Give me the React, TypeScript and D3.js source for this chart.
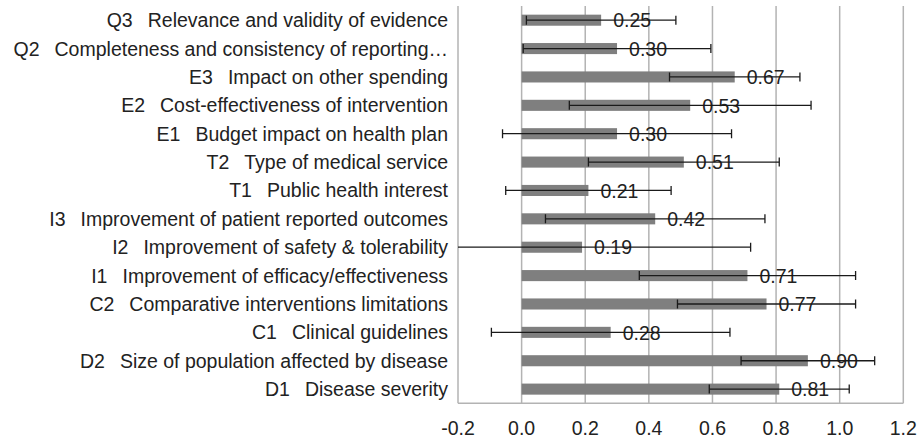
import React from "react";
import * as d3 from "d3";

const codes = ["Q3", "Q2", "E3", "E2", "E1", "T2", "T1", "I3", "I2", "I1", "C2", "C1", "D2", "D1"];
const names = [
  "Relevance and validity of evidence",
  "Completeness and consistency of reporting…",
  "Impact on other spending",
  "Cost-effectiveness of intervention",
  "Budget impact on health plan",
  "Type of medical service",
  "Public health interest",
  "Improvement of patient reported outcomes",
  "Improvement of safety & tolerability",
  "Improvement of efficacy/effectiveness",
  "Comparative interventions limitations",
  "Clinical guidelines",
  "Size of population affected by disease",
  "Disease severity",
];
const values = [0.25, 0.3, 0.67, 0.53, 0.3, 0.51, 0.21, 0.42, 0.19, 0.71, 0.77, 0.28, 0.9, 0.81];
const errors = [0.235, 0.295, 0.205, 0.38, 0.36, 0.3, 0.26, 0.345, 0.53, 0.34, 0.28, 0.375, 0.21, 0.22];
const ticks = [-0.2, 0, 0.2, 0.4, 0.6, 0.8, 1.0, 1.2];

const W = 921;
const H = 441;
const left = 458;
const right = 903.3;
const top = 6;
const bottom = 403.3;
const FONT = "'Liberation Sans', Arial, Helvetica, sans-serif";

export default function App() {
  const x = d3.scaleLinear().domain([-0.2, 1.2]).range([left, right]);
  const y = d3.scaleBand<number>().domain(d3.range(codes.length)).range([top, bottom]).paddingInner(0.61).paddingOuter(0.305);
  const bh = y.bandwidth();
  const grid = "#b3b3b3";
  const fmtTick = (t: number) => d3.format(".1f")(t).replace("\u2212", "-");
  return (
    <div style={{ position: "absolute", left: 0, top: 0 }}>
      <svg width={W} height={H} style={{ display: "block" }} fontFamily={FONT}>
        <defs>
          <clipPath id="plotclip">
            <rect x={left} y={top} width={right - left + 2} height={bottom - top} />
          </clipPath>
        </defs>
        {ticks.map((t) => (
          <line key={"g" + t} x1={x(t)} x2={x(t)} y1={top} y2={bottom} stroke={grid} strokeWidth={1.5} />
        ))}
        <line x1={left} x2={right} y1={bottom} y2={bottom} stroke={grid} strokeWidth={1.5} />
        {values.map((v, i) => (
          <rect key={"b" + i} x={x(0)} y={y(i)!} width={x(v) - x(0)} height={bh} fill="#7f7f7f" />
        ))}
        {values.map((v, i) => (
          <text key={"v" + i} x={x(v) + 12} y={y(i)! + bh / 2} dy="0.37em" fontSize={19.5} fill="#222">
            {d3.format(".2f")(v)}
          </text>
        ))}
        <g clipPath="url(#plotclip)">
          {values.map((v, i) => {
            const cy = y(i)! + bh / 2;
            const lo = x(v - errors[i]);
            const hi = x(v + errors[i]);
            return (
              <g key={"e" + i} stroke="#1a1a1a" strokeWidth={1.3}>
                <line x1={lo} x2={hi} y1={cy} y2={cy} />
                <line x1={lo} x2={lo} y1={cy - 4.5} y2={cy + 4.5} />
                <line x1={hi} x2={hi} y1={cy - 4.5} y2={cy + 4.5} />
              </g>
            );
          })}
        </g>
        {codes.map((c, i) => (
          <text key={"c" + i} x={448} y={y(i)! + bh / 2} dy="0.36em" fontSize={19.5} textAnchor="end" fill="#222">
            <tspan>{c}</tspan>
            <tspan dx={15}>{names[i]}</tspan>
          </text>
        ))}
        {ticks.map((t) => (
          <text key={"t" + t} x={x(t)} y={428} dy="0.36em" fontSize={19.5} textAnchor="middle" fill="#222">
            {fmtTick(t)}
          </text>
        ))}
      </svg>
    </div>
  );
}
